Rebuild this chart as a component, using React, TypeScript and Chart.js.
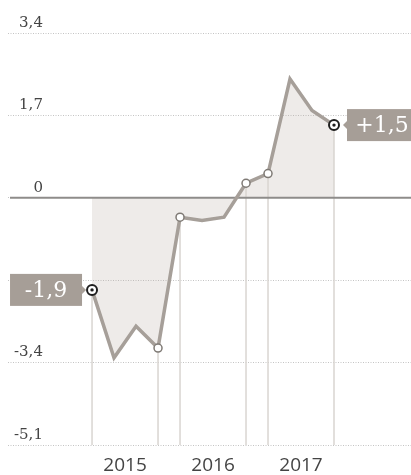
import React, { useEffect, useRef } from 'react';
import { Chart, registerables } from 'chart.js';

Chart.register(...registerables);

// ---- data ----
const quarters = [
  '2015-T1', '2015-T2', '2015-T3', '2015-T4',
  '2016-T1', '2016-T2', '2016-T3', '2016-T4',
  '2017-T1', '2017-T2', '2017-T3', '2017-T4',
];
const values = [-1.9, -3.3, -2.65, -3.1, -0.4, -0.47, -0.4, 0.3, 0.5, 2.45, 1.8, 1.5];
const years = ['2015', '2016', '2017'];
const yearCenters = [1.5, 5.5, 9.5];
const yTicks = [-5.1, -3.4, -1.7, 0, 1.7, 3.4];
const hiddenTickLabels = [-1.7];
const openMarkerIdx = [3, 4, 7, 8];
const endMarkerIdx = [0, 11];
const guideIdx = [0, 3, 4, 7, 8, 11];
const firstLabel = '-1,9';
const lastLabel = '+1,5';
const xMin = -3.82;
const xMax = 14.5;

const LINE = '#a69f99';
const BOX = '#a69e97';

const overlay = {
  id: 'overlay',
  beforeDatasetsDraw(chart: any) {
    const { ctx, chartArea, scales } = chart;
    const meta = chart.getDatasetMeta(0);
    ctx.save();
    ctx.strokeStyle = '#d9d5d1';
    ctx.lineWidth = 1.5;
    guideIdx.forEach((i) => {
      const p = meta.data[i];
      ctx.beginPath();
      ctx.moveTo(p.x, p.y);
      ctx.lineTo(p.x, chartArea.bottom);
      ctx.stroke();
    });
    const y0 = scales.y.getPixelForValue(0);
    ctx.strokeStyle = '#8e8c8a';
    ctx.lineWidth = 2;
    ctx.beginPath();
    ctx.moveTo(chartArea.left + 2, y0);
    ctx.lineTo(chartArea.right, y0);
    ctx.stroke();
    ctx.restore();
  },
  afterDatasetsDraw(chart: any) {
    const { ctx } = chart;
    const meta = chart.getDatasetMeta(0);
    ctx.save();
    endMarkerIdx.forEach((i) => {
      const p = meta.data[i];
      ctx.fillStyle = '#1e1e1e';
      ctx.beginPath();
      ctx.arc(p.x, p.y, 1.7, 0, Math.PI * 2);
      ctx.fill();
    });
    const drawBox = (text: string, px: number, py: number, side: 'left' | 'right') => {
      const w = 72;
      const h = 32;
      const x = side === 'left' ? px - 10 - w : px + 13;
      const y = py - h / 2;
      ctx.fillStyle = BOX;
      ctx.fillRect(x, y, w, h);
      ctx.beginPath();
      if (side === 'left') {
        ctx.moveTo(x + w, py - 4);
        ctx.lineTo(x + w + 4, py);
        ctx.lineTo(x + w, py + 4);
      } else {
        ctx.moveTo(x, py - 4);
        ctx.lineTo(x - 4, py);
        ctx.lineTo(x, py + 4);
      }
      ctx.fill();
      ctx.fillStyle = '#ffffff';
      ctx.font = '22px "DejaVu Serif"';
      ctx.textAlign = 'center';
      ctx.textBaseline = 'middle';
      ctx.fillText(text, x + w / 2 + (side === 'left' ? 0 : -1), py + 1);
    };
    const a = meta.data[endMarkerIdx[0]];
    const b = meta.data[endMarkerIdx[1]];
    drawBox(firstLabel, a.x, a.y, 'left');
    drawBox(lastLabel, b.x, b.y, 'right');
    ctx.restore();
  },
};

export default function App() {
  const ref = useRef<HTMLCanvasElement | null>(null);

  useEffect(() => {
    if (!ref.current) return;
    const chart = new Chart(ref.current, {
      type: 'line',
      data: {
        labels: quarters,
        datasets: [
          {
            data: values.map((v, i) => ({ x: i, y: v })),
            borderColor: LINE,
            borderWidth: 3.5,
            tension: 0,
            fill: 'origin',
            backgroundColor: 'rgba(180,170,160,0.23)',
            pointRadius: (c: any) =>
              endMarkerIdx.includes(c.dataIndex) ? 5 : openMarkerIdx.includes(c.dataIndex) ? 4 : 0,
            pointHoverRadius: 0,
            pointBackgroundColor: '#ffffff',
            pointBorderColor: (c: any) => (endMarkerIdx.includes(c.dataIndex) ? '#1e1e1e' : '#7f7a75'),
            pointBorderWidth: (c: any) => (endMarkerIdx.includes(c.dataIndex) ? 2 : 1.5),
          },
        ],
      },
      options: {
        animation: false,
        responsive: true,
        maintainAspectRatio: false,
        layout: { autoPadding: false, padding: { left: 8, top: 33, right: 0, bottom: 2 } },
        plugins: {
          legend: { display: false },
          tooltip: { enabled: false },
          filler: { drawTime: 'beforeDatasetsDraw' },
        } as any,
        scales: {
          x: {
            type: 'linear',
            min: xMin,
            max: xMax,
            afterBuildTicks: (s: any) => {
              s.ticks = yearCenters.map((v) => ({ value: v }));
            },
            afterFit: (s: any) => {
              s.height = 28;
            },
            grid: { display: false, drawTicks: false },
            border: { display: false },
            ticks: {
              autoSkip: false,
              maxRotation: 0,
              padding: 9,
              color: '#444444',
              font: { family: 'Open Sans', size: 19 },
              callback: (_v: any, i: number) => years[i],
            },
          },
          y: {
            type: 'linear',
            min: yTicks[0],
            max: yTicks[yTicks.length - 1],
            afterBuildTicks: (s: any) => {
              s.ticks = yTicks.map((v) => ({ value: v }));
            },
            afterFit: (s: any) => {
              s.width = 0;
            },
            grid: { color: '#c4c4c4', lineWidth: 1, drawTicks: false },
            border: { display: false, dash: [1, 1.5] },
            ticks: {
              mirror: true,
              crossAlign: 'far',
              padding: 6,
              labelOffset: -10,
              color: '#444444',
              font: { family: 'DejaVu Serif', size: 15 },
              callback: (v: any) =>
                hiddenTickLabels.includes(Number(v)) ? '' : String(v).replace('.', ','),
            },
          },
        },
      },
      plugins: [overlay],
    } as any);
    return () => chart.destroy();
  }, []);

  return (
    <div style={{ position: 'absolute', left: 0, top: 0, width: 411, height: 475 }}>
      <canvas ref={ref} />
    </div>
  );
}
